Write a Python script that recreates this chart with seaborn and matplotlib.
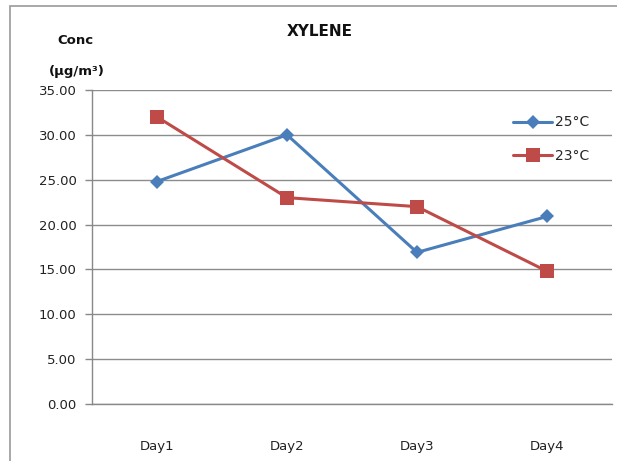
import matplotlib
matplotlib.use("Agg")
import matplotlib.pyplot as plt
from matplotlib.patches import Rectangle
from matplotlib.ticker import FixedLocator
import seaborn as sns
import pandas as pd

days = ["Day1", "Day2", "Day3", "Day4"]
series_names = ["25°C", "23°C"]
conc_25 = [24.8, 30.0, 16.9, 20.9]
conc_23 = [32.0, 23.0, 22.0, 14.8]
y_ticks = [0, 5, 10, 15, 20, 25, 30, 35]

df = pd.DataFrame({
    "day": list(range(len(days))) * 2,
    "conc": conc_25 + conc_23,
    "series": [series_names[0]] * len(days) + [series_names[1]] * len(days),
})

sns.set_style("white")
plt.rcParams["font.family"] = ["DejaVu Sans"]

fig = plt.figure(figsize=(6.17, 4.61), dpi=100)
ax = fig.add_axes([92 / 617, 57 / 461, 520 / 617, 314 / 461])

palette = {series_names[0]: "#4A7EBB", series_names[1]: "#BE4B48"}
markers = {series_names[0]: "D", series_names[1]: "s"}
sizes_ms = {series_names[0]: 7, series_names[1]: 10}

for name in series_names:
    sub = df[df["series"] == name]
    sns.lineplot(data=sub, x="day", y="conc", ax=ax, color=palette[name],
                 marker=markers[name], markersize=sizes_ms[name],
                 markeredgewidth=0, linewidth=2.2, label=name)

ax.set_xlim(-0.5, len(days) - 0.5)
ax.set_ylim(0, 35)
ax.set_yticks(y_ticks)
ax.set_yticklabels([f"{v:.2f}" for v in y_ticks], fontsize=9.5, color="#222222")
ax.set_xticks(range(len(days)))
ax.set_xticklabels(days, fontsize=9.5, color="#222222")
ax.xaxis.set_minor_locator(FixedLocator([i - 0.5 for i in range(len(days) + 1)]))
ax.tick_params(axis="x", which="major", length=0, pad=26)
ax.tick_params(axis="x", which="minor", length=5, color="#888888", width=1, direction="out")
ax.tick_params(axis="y", length=5, color="#888888", width=1, direction="out", pad=6, left=True)
ax.set_xlabel("")
ax.set_ylabel("")

ax.grid(axis="y", color="#8c8c8c", linewidth=1)
ax.set_axisbelow(True)
for side in ["top", "right"]:
    ax.spines[side].set_visible(False)
for side in ["left", "bottom"]:
    ax.spines[side].set_color("#888888")
    ax.spines[side].set_linewidth(1)

leg = ax.legend(loc="upper right", bbox_to_anchor=(0.975, 0.95), frameon=False,
                fontsize=10, handlelength=2.8, labelspacing=1.4,
                handletextpad=0.2, borderaxespad=0.3)

fig.text(320 / 617, 1 - 32 / 461, "XYLENE", ha="center", va="center",
         fontsize=11, fontweight="bold", color="#111111")
fig.text(75 / 617, 1 - 40 / 461, "Conc", ha="center", va="center",
         fontsize=9.5, fontweight="bold", color="#111111")
fig.text(77 / 617, 1 - 72 / 461, "(µg/m³)", ha="center", va="center",
         fontsize=9.5, fontweight="bold", color="#111111")

fig.patches.append(Rectangle((10 / 617, -0.01), 1.0, 1 - 6 / 461 + 0.01,
                             transform=fig.transFigure, fill=False,
                             edgecolor="#9a9a9a", linewidth=1.2))

fig.savefig("out.png", dpi=100)
